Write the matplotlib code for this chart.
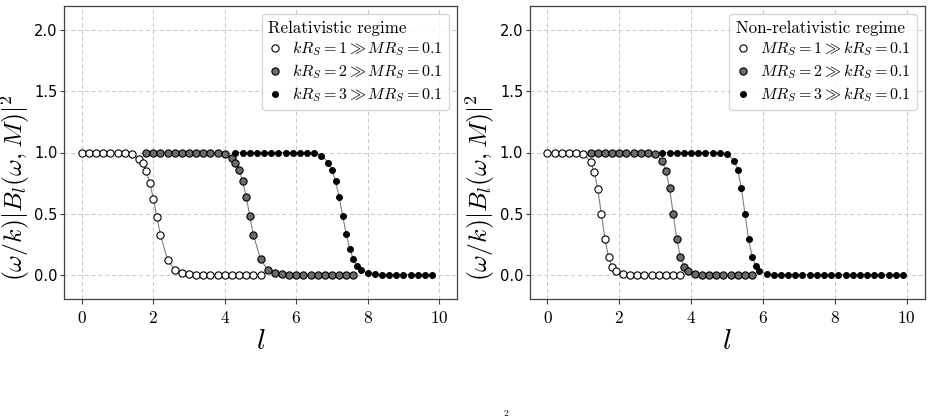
import matplotlib
matplotlib.use("Agg")
import matplotlib.pyplot as plt
from matplotlib.ticker import FuncFormatter, MultipleLocator

plt.rcParams['mathtext.fontset'] = 'cm'

# ---------------- data ----------------
# Relativistic regime
rel_x1 = [0.0, 0.2, 0.4, 0.6, 0.8, 1.0, 1.2, 1.4, 1.6, 1.7, 1.8, 1.9, 2.0, 2.1, 2.2,
          2.4, 2.6, 2.8, 3.0, 3.2, 3.4, 3.6, 3.8, 4.0, 4.2, 4.4, 4.6, 4.8, 5.0]
rel_y1 = [1.0, 1.0, 1.0, 1.0, 1.0, 1.0, 0.995, 0.985, 0.95, 0.91, 0.847, 0.754, 0.623, 0.472, 0.322,
          0.12, 0.036, 0.011, 0.003, 0.0, 0.0, 0.0, 0.0, 0.0, 0.0, 0.0, 0.0, 0.0, 0.0]

rel_x2 = [1.8, 2.0, 2.2, 2.4, 2.6, 2.8, 3.0, 3.2, 3.4, 3.6, 3.8, 4.0,
          4.2, 4.3, 4.4, 4.5, 4.6, 4.7, 4.8,
          5.0, 5.2, 5.4, 5.6, 5.8, 6.0, 6.2, 6.4, 6.6, 6.8, 7.0, 7.2, 7.4, 7.6]
rel_y2 = [1.0, 1.0, 1.0, 1.0, 1.0, 1.0, 1.0, 1.0, 1.0, 1.0, 0.998, 0.988,
          0.953, 0.915, 0.857, 0.765, 0.636, 0.48, 0.328,
          0.125, 0.04, 0.012, 0.003, 0.0, 0.0, 0.0, 0.0, 0.0, 0.0, 0.0, 0.0, 0.0, 0.0]

rel_x3 = [4.3, 4.5, 4.7, 4.9, 5.1, 5.3, 5.5, 5.7, 5.9, 6.1, 6.3, 6.5, 6.7,
          6.9, 7.0, 7.1, 7.2, 7.3, 7.4, 7.5, 7.6, 7.7, 7.8,
          8.0, 8.2, 8.4, 8.6, 8.8, 9.0, 9.2, 9.4, 9.6, 9.8]
rel_y3 = [1.0, 1.0, 1.0, 1.0, 1.0, 1.0, 1.0, 1.0, 1.0, 1.0, 1.0, 0.997, 0.975,
          0.918, 0.86, 0.765, 0.636, 0.48, 0.33, 0.21, 0.125, 0.07, 0.04,
          0.012, 0.003, 0.0, 0.0, 0.0, 0.0, 0.0, 0.0, 0.0, 0.0]

# Non-relativistic regime
nr_x1 = [0.0, 0.2, 0.4, 0.6, 0.8, 1.0,
         1.2, 1.3, 1.4, 1.5, 1.6, 1.7, 1.8, 1.9,
         2.1, 2.3, 2.5, 2.7, 2.9, 3.1, 3.3, 3.5, 3.7]
nr_y1 = [1.0, 1.0, 1.0, 1.0, 0.997, 0.984,
         0.926, 0.844, 0.70, 0.50, 0.292, 0.148, 0.066, 0.027,
         0.003, 0.0, 0.0, 0.0, 0.0, 0.0, 0.0, 0.0, 0.0]

nr_x2 = [1.2, 1.4, 1.6, 1.8, 2.0, 2.2, 2.4, 2.6, 2.8, 3.0,
         3.2, 3.3, 3.4, 3.5, 3.6, 3.7, 3.8, 3.9,
         4.1, 4.3, 4.5, 4.7, 4.9, 5.1, 5.3, 5.5, 5.7]
nr_y2 = [1.0, 1.0, 1.0, 1.0, 1.0, 1.0, 1.0, 1.0, 0.998, 0.986,
         0.931, 0.85, 0.707, 0.50, 0.292, 0.145, 0.066, 0.027,
         0.005, 0.0, 0.0, 0.0, 0.0, 0.0, 0.0, 0.0, 0.0]

nr_x3 = [3.2, 3.4, 3.6, 3.8, 4.0, 4.2, 4.4, 4.6, 4.8, 5.0,
         5.2, 5.3, 5.4, 5.5, 5.6, 5.7, 5.8, 5.9,
         6.1, 6.3, 6.5, 6.7, 6.9, 7.1, 7.3, 7.5, 7.7, 7.9,
         8.1, 8.3, 8.5, 8.7, 8.9, 9.1, 9.3, 9.5, 9.7, 9.9]
nr_y3 = [1.0, 1.0, 1.0, 1.0, 1.0, 1.0, 1.0, 1.0, 0.998, 0.989,
         0.934, 0.855, 0.707, 0.50, 0.292, 0.145, 0.068, 0.03,
         0.005, 0.0, 0.0, 0.0, 0.0, 0.0, 0.0, 0.0, 0.0, 0.0,
         0.0, 0.0, 0.0, 0.0, 0.0, 0.0, 0.0, 0.0, 0.0, 0.0]

rel_labels = [r"$kR_S = 1 \gg MR_S = 0.1$",
              r"$kR_S = 2 \gg MR_S = 0.1$",
              r"$kR_S = 3 \gg MR_S = 0.1$"]
nr_labels = [r"$MR_S = 1 \gg kR_S = 0.1$",
             r"$MR_S = 2 \gg kR_S = 0.1$",
             r"$MR_S = 3 \gg kR_S = 0.1$"]
titles = ["Relativistic regime", "Non-relativistic regime"]
ylabel = r"$(\omega/k)|B_l(\omega, M)|^2$"
xlabel = r"$l$"

# ---------------- styling ----------------
face_colors = ["white", "0.42", "black"]
marker_sizes = [5.2, 5.2, 4.2]

W, H = 931, 418
fig = plt.figure(figsize=(W / 100, H / 100), dpi=100)
ax_boxes = [
    [64 / W, 1 - 299 / H, 393 / W, 293 / H],
    [529.5 / W, 1 - 299 / H, 395 / W, 293 / H],
]

panels = [
    ([(rel_x1, rel_y1), (rel_x2, rel_y2), (rel_x3, rel_y3)], rel_labels, titles[0]),
    ([(nr_x1, nr_y1), (nr_x2, nr_y2), (nr_x3, nr_y3)], nr_labels, titles[1]),
]

for box, (series, labels, title) in zip(ax_boxes, panels):
    ax = fig.add_axes(box)
    ax.set_axisbelow(True)
    ax.grid(True, linestyle=(0, (4, 3)), color="0.78", linewidth=0.7)
    for (xs, ys), lab, fc, ms in zip(series, labels, face_colors, marker_sizes):
        ax.plot(xs, ys, color="0.5", linewidth=0.8, zorder=2)
        ax.plot(xs, ys, linestyle="none", marker="o", markersize=ms,
                markerfacecolor=fc, markeredgecolor="black",
                markeredgewidth=0.8, label=lab, zorder=3)
    ax.set_xlim(-0.5, 10.5)
    ax.set_ylim(-0.2, 2.2)
    ax.xaxis.set_major_locator(MultipleLocator(2))
    ax.yaxis.set_major_locator(MultipleLocator(0.5))
    ax.xaxis.set_major_formatter(FuncFormatter(lambda v, p: f"${v:g}$"))
    ax.yaxis.set_major_formatter(FuncFormatter(lambda v, p: f"{v:.1f}"))
    ax.tick_params(axis="x", labelsize=12.5, length=3.5, width=0.8, color="0.25")
    ax.tick_params(axis="y", labelsize=10.5, length=3, pad=1.5, width=0.8, color="0.25")
    for sp in ax.spines.values():
        sp.set_color("0.25")
        sp.set_linewidth(0.9)
    ax.set_xlabel(xlabel, fontsize=21, labelpad=0)
    ax.set_ylabel(ylabel, fontsize=18.5)
    ax.yaxis.set_label_coords(-0.082, 0.38)
    leg = ax.legend(loc="upper right", fontsize=11.5, numpoints=1,
                    handlelength=0.9, handletextpad=0.6, labelspacing=0.25,
                    borderpad=0.4, framealpha=0.8, edgecolor="0.8",
                    title=title, title_fontproperties={"family": "cmr10", "size": 12.2})
    leg._legend_box.align = "left"

# Small caption glyph at the bottom edge
fig.text(506 / W, 1 - 417.5 / H, r"$2$", fontsize=7, ha="center", va="bottom")

fig.savefig("out.png", dpi=100)
